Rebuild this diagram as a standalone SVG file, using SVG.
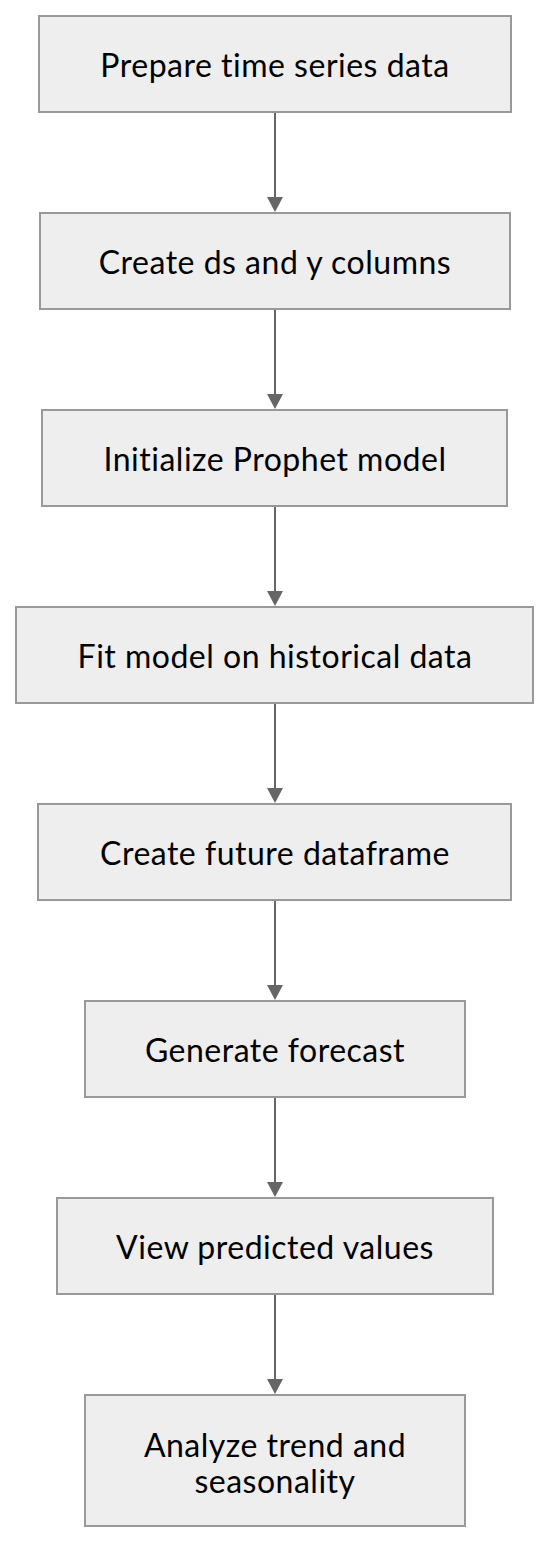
<svg xmlns="http://www.w3.org/2000/svg" width="550" height="1544" viewBox="0 0 550 1544">
<style>
.node rect{fill:#eeeeee;stroke:#999999;stroke-width:2}
.node text{font-family:Lato,"DejaVu Sans",sans-serif;font-size:32px;letter-spacing:0.5px;fill:#000;text-anchor:middle}
.edge{stroke:#666666;stroke-width:2;fill:none}
.head{fill:#666666}
</style>
<rect width="550" height="1544" fill="#ffffff"/>
<g id="connectors">
<line class="edge" x1="275" y1="113" x2="275" y2="197"/>
<path class="head" d="M267,197 L283,197 L275,212 z"/>
<line class="edge" x1="275" y1="310" x2="275" y2="394"/>
<path class="head" d="M267,394 L283,394 L275,409 z"/>
<line class="edge" x1="275" y1="507" x2="275" y2="591"/>
<path class="head" d="M267,591 L283,591 L275,606 z"/>
<line class="edge" x1="275" y1="704" x2="275" y2="788"/>
<path class="head" d="M267,788 L283,788 L275,803 z"/>
<line class="edge" x1="275" y1="901" x2="275" y2="985"/>
<path class="head" d="M267,985 L283,985 L275,1000 z"/>
<line class="edge" x1="275" y1="1098" x2="275" y2="1182"/>
<path class="head" d="M267,1182 L283,1182 L275,1197 z"/>
<line class="edge" x1="275" y1="1295" x2="275" y2="1379"/>
<path class="head" d="M267,1379 L283,1379 L275,1394 z"/>
</g>
<g id="n1" class="node"><rect x="39" y="16" width="472" height="96"/><text x="275" y="77">Prepare time series data</text></g>
<g id="n2" class="node"><rect x="40" y="213" width="470" height="96"/><text x="275" y="274">Create ds and y columns</text></g>
<g id="n3" class="node"><rect x="42" y="410" width="465" height="96"/><text x="275" y="471">Initialize Prophet model</text></g>
<g id="n4" class="node"><rect x="16" y="607" width="517" height="96"/><text x="275" y="668">Fit model on historical data</text></g>
<g id="n5" class="node"><rect x="38" y="804" width="473" height="96"/><text x="275" y="865">Create future dataframe</text></g>
<g id="n6" class="node"><rect x="85" y="1001" width="380" height="96"/><text x="275" y="1062">Generate forecast</text></g>
<g id="n7" class="node"><rect x="57" y="1198" width="436" height="96"/><text x="275" y="1259">View predicted values</text></g>
<g id="n8" class="node"><rect x="85" y="1395" width="380" height="131"/><text x="275" y="1457">Analyze trend and</text><text x="275" y="1493">seasonality</text></g>
</svg>
